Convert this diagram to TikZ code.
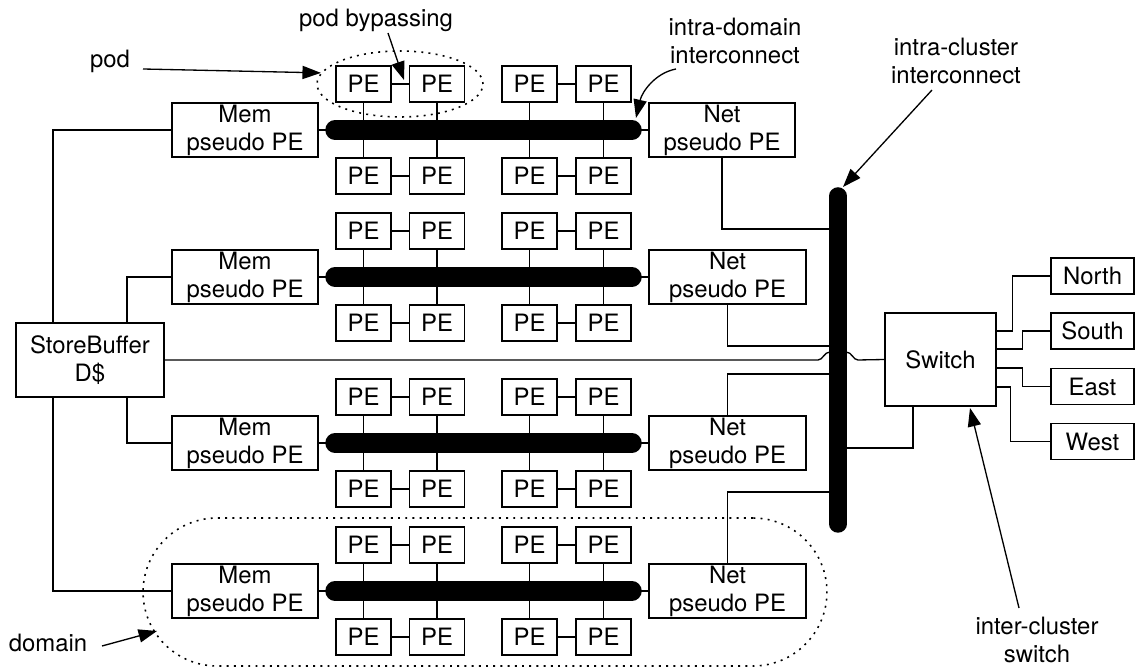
\documentclass[tikz,border=0pt]{standalone}
\usepackage{fontspec}
\setmainfont{TeX Gyre Heros}
\usetikzlibrary{arrows.meta,shapes.geometric}
\begin{document}
\begin{tikzpicture}[x=0.02cm,y=-0.02cm,
  font=\fontsize{13.6}{15.9}\selectfont,
  box/.style={draw,line width=0.8pt,inner sep=0pt,align=center},
  pebox/.style={box,minimum width=1.1cm,minimum height=0.72cm},
  pbox/.style={box,minimum width=2.92cm,minimum height=1.08cm},
  dirbox/.style={box,minimum width=1.66cm,minimum height=0.72cm},
  wire/.style={line width=0.75pt},
  link/.style={line width=1.1pt},
  hbus/.style={line width=0.39cm,line cap=round},
  vbus/.style={line width=0.35cm,line cap=round},
  arr/.style={line width=0.75pt,-{Triangle[length=10.5pt,width=7.5pt]}},
  dots/.style={line width=0.9pt,dash pattern=on 1.1pt off 3pt},
  lbl/.style={align=center,inner sep=0pt}]
\useasboundingbox (0,0) rectangle (1136,668);

% domain outline
\node[draw,dots,rounded corners=1.48cm,minimum width=13.68cm,minimum height=2.96cm,inner sep=0pt] (dom) at (485,592) {};

% store buffer
\node[box,minimum width=2.96cm,minimum height=1.48cm] (sb) at (90,360) {StoreBuffer\\D\$};

% vertical intra-cluster bus ends
\coordinate (cbT) at (838,196);
\coordinate (cbB) at (838,524);

% domains
\foreach \i/\y/\nw/\nx in {1/130/2.92cm/722,2/277/3.14cm/727.5,3/443/3.14cm/727.5,4/591/3.14cm/727.5} {
  \node[pbox] (mem\i) at (245,\y) {Mem\\pseudo PE};
  \node[pbox,minimum width=\nw] (net\i) at (\nx,\y) {Net\\pseudo PE};
  \coordinate (bl\i) at (335,\y);
  \coordinate (br\i) at (632,\y);
  \foreach \j/\x in {1/363.5,2/437,3/529.5,4/603.5} {
    \node[pebox] (pe\i\j-t) at (\x,\y-46) {PE};
    \node[pebox] (pe\i\j-b) at (\x,\y+46) {PE};
    \draw[link] (pe\i\j-t) -- (pe\i\j-b);
  }
  \draw[link] (pe\i1-t) -- (pe\i2-t);
  \draw[link] (pe\i3-t) -- (pe\i4-t);
  \draw[link] (pe\i1-b) -- (pe\i2-b);
  \draw[link] (pe\i3-b) -- (pe\i4-b);
  \draw[wire] (mem\i.east) -- (bl\i);
  \draw[wire] (net\i.west) -- (br\i);
  \draw[hbus] (bl\i) -- (br\i);
}

% store buffer to memory pseudo PEs
\coordinate (tapA) at (53,360);
\coordinate (tapB) at (127,360);
\draw[wire] (tapA |- sb.north) |- (mem1.west);
\draw[wire] (tapB |- sb.north) |- (mem2.west);
\draw[wire] (tapB |- sb.south) |- (mem3.west);
\draw[wire] (tapA |- sb.south) |- (mem4.west);

% switch
\node[box,minimum width=2.22cm,minimum height=1.86cm] (sw) at (940.5,359.5) {Switch};

% net pseudo PEs to cluster bus
\coordinate (j1) at (838,229);
\coordinate (j2) at (838,346);
\coordinate (j3) at (838,374);
\coordinate (j4) at (838,492);
\coordinate (j5) at (838,448);
\coordinate (swT) at (913,0);
\draw[wire] (net1.south) |- (j1);
\draw[wire] (net2.south) |- (j2);
\draw[wire] (net3.north) |- (j3);
\draw[wire] (net4.north) |- (j4);
\draw[wire] (swT |- sw.south) |- (j5);

% store buffer to switch, hopping over the bus
\draw[wire] (sb.east) -- (818,360) .. controls (823,360) and (824,352) .. (830,352)
  -- (846,352) .. controls (852,352) and (853,360) .. (858,360) -- (sw.west);

\draw[vbus] (cbT) -- (cbB);

% direction ports
\node[dirbox] (nN) at (1092.5,276) {North};
\node[dirbox] (nS) at (1092.5,331) {South};
\node[dirbox] (nE) at (1092.5,386.5) {East};
\node[dirbox] (nW) at (1092.5,441.5) {West};
\coordinate (s1) at (0,331);
\coordinate (s2) at (0,349);
\coordinate (s3) at (0,368);
\coordinate (s4) at (0,387);
\draw[wire] (sw.east |- s1) -- ++(16,0) |- (nN.west);
\draw[wire] (sw.east |- s2) -- ++(26,0) |- (nS.west);
\draw[wire] (sw.east |- s3) -- ++(26,0) |- (nE.west);
\draw[wire] (sw.east |- s4) -- ++(14,0) |- (nW.west);

% pod outline
\node[draw,dots,ellipse,minimum width=3.32cm,minimum height=1.32cm,inner sep=0pt] (pod) at (400,84) {};

% labels and arrows
\node[lbl] (podl) at (110,61) {pod};
\coordinate (podA) at (143,69);
\draw[arr] (podA) -- (pod.172);

\node[lbl] (bypl) at (376,20) {pod bypassing};
\coordinate (bypA) at (388,33);
\coordinate (bypB) at (404,80);
\draw[arr] (bypA) -- (bypB);

\node[lbl] (idl) at (735,41) {intra-domain\\interconnect};
\coordinate (idA) at (676,69);
\coordinate (idB) at (636,118);
\draw[arr] (idA) .. controls (655,73) and (642,92) .. (idB);

\node[lbl] (icl) at (956,61) {intra-cluster\\interconnect};
\coordinate (icA) at (932,90);
\coordinate (icB) at (843,187);
\draw[arr] (icA) -- (icB);

\node[lbl] (isl) at (1037,640) {inter-cluster\\switch};
\coordinate (isA) at (1019,608);
\coordinate (isB) at (970,408);
\draw[arr] (isA) -- (isB);

\node[lbl] (doml) at (48,643) {domain};
\coordinate (domA) at (102,646);
\coordinate (domB) at (157,631);
\draw[arr] (domA) -- (domB);
\end{tikzpicture}
\end{document}
